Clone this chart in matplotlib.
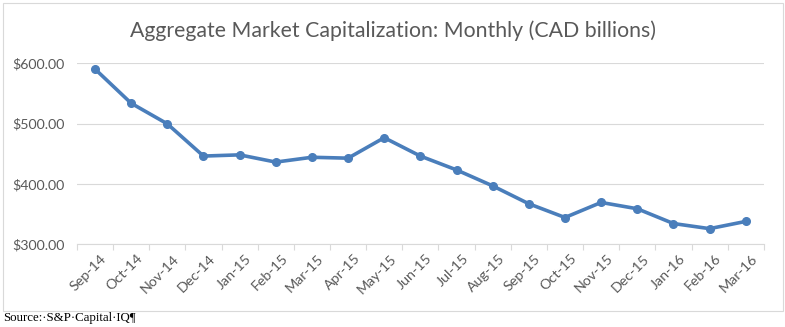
import matplotlib.pyplot as plt
from matplotlib.patches import Rectangle
from matplotlib.transforms import ScaledTranslation

# Data
months = ['Sep-14', 'Oct-14', 'Nov-14', 'Dec-14', 'Jan-15', 'Feb-15', 'Mar-15',
          'Apr-15', 'May-15', 'Jun-15', 'Jul-15', 'Aug-15', 'Sep-15', 'Oct-15',
          'Nov-15', 'Dec-15', 'Jan-16', 'Feb-16', 'Mar-16']
market_cap = [590.5, 533.7, 499.5, 446, 448, 436, 444,
              442.5, 476.5, 446, 423, 396.5, 366.8, 344,
              369, 358.5, 334, 325.5, 337.5]
y_ticks = [300, 400, 500, 600]

grey = '#595959'
plt.rcParams['font.family'] = ['Lato', 'DejaVu Sans']

fig = plt.figure(figsize=(7.85, 3.27), dpi=100)
ax = fig.add_axes([0.098, 0.2538, 0.875, 0.5526])

x = range(len(months))
ax.plot(x, market_cap, color='#4a7ebb', linewidth=2.6, marker='o',
        markersize=5.5, solid_capstyle='round', zorder=3)

# Axes range and ticks
ax.set_xlim(-0.5, len(months) - 0.5)
ax.set_ylim(300, 600)
ax.set_yticks(y_ticks)
ax.set_yticklabels(['${:.2f}'.format(v) for v in y_ticks], color=grey, fontsize=10.2)
ax.set_xticks(list(x))
ax.set_xticklabels(months, rotation=45, ha='right', rotation_mode='anchor',
                   color=grey, fontsize=10.3)
ax.set_xticks([i - 0.5 for i in range(len(months) + 1)], minor=True)
ax.tick_params(axis='x', which='major', length=0, pad=6)
ax.tick_params(axis='x', which='minor', length=4, color='#d9d9d9', width=0.8)
ax.tick_params(axis='y', length=0, pad=9)

# shift x labels a little to the right, like Excel does
shift = ScaledTranslation(4 / 72, 0, fig.dpi_scale_trans)
for lbl in ax.get_xticklabels():
    lbl.set_transform(lbl.get_transform() + shift)

# Gridlines and spines
ax.grid(axis='y', color='#d9d9d9', linewidth=0.8)
ax.set_axisbelow(True)
for side in ['top', 'right', 'left']:
    ax.spines[side].set_visible(False)
ax.spines['bottom'].set_color('#d9d9d9')
ax.spines['bottom'].set_linewidth(0.8)

# Title
fig.text(0.5, 0.905, 'Aggregate Market Capitalization: Monthly (CAD billions)',
         ha='center', va='center', color=grey, fontsize=15.3)

# Chart border
fig.patches.append(Rectangle((3 / 785, 1 - 311 / 327), 780 / 785, 308 / 327,
                             transform=fig.transFigure, fill=False,
                             edgecolor='#d9d9d9', linewidth=0.8))

# Source note
fig.text(3 / 785, 1 - 318 / 327, 'Source:·S&P·Capital·IQ¶', ha='left', va='center',
         fontsize=9.3, family=['Liberation Serif', 'DejaVu Serif'], color='black')

plt.savefig('out.png', dpi=100)
